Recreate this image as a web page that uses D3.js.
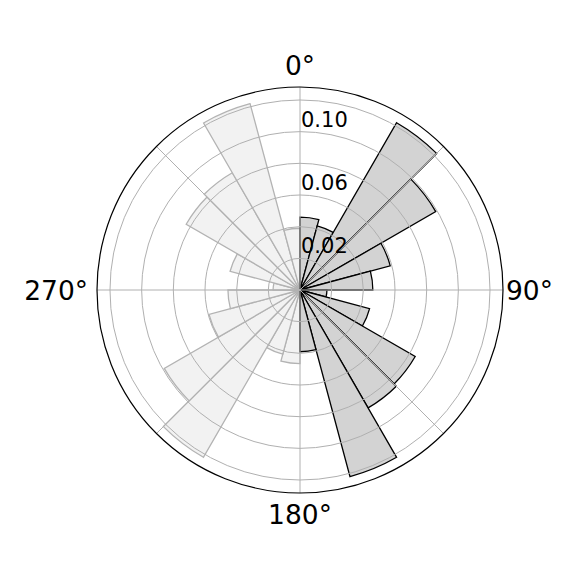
<!DOCTYPE html>
<html>
<head>
<meta charset="utf-8">
<script src="https://cdn.jsdelivr.net/npm/d3@7"></script>
<style>
  body { margin: 0; background: #fff; }
  text { font-family: "DejaVu Sans", sans-serif; }
</style>
</head>
<body>
<script>
'use strict';

// bin start angles (degrees, clockwise from north), 15 degree bins
const eastBins = [0, 15, 30, 45, 60, 75, 90, 105, 120, 135, 150, 165];
const westBins = [180, 195, 210, 225, 240, 255, 270, 285, 300, 315, 330, 345];
// bar heights
const eastValues = [0.046, 0.042, 0.122, 0.099, 0.059, 0.046, 0.017, 0.0455, 0.084, 0.086, 0.122, 0.039];
const westValues = [0.0465, 0.042, 0.122, 0.099, 0.0595, 0.0455, 0.017, 0.0457, 0.083, 0.0855, 0.1218, 0.039];
const binWidth = 15;

// axis ticks
const rGrid = [0.02, 0.04, 0.06, 0.08, 0.10, 0.12];
const rLabels = [0.02, 0.06, 0.10];
const thetaGrid = [0, 45, 90, 135, 180, 225, 270, 315];
const thetaLabels = ["0°", "90°", "180°", "270°"];
const rMax = 0.1282;

const width = 581, height = 581;
const cx = 300, cy = 290, outerR = 203;

let svg = d3.select('body')
  .append('svg')
  .attr('width', width)
  .attr('height', height);

let g = svg.append('g')
  .attr('transform', `translate(${cx},${cy})`);

let rScale = d3.scaleLinear()
  .domain([0, rMax])
  .range([0, outerR]);

let toRad = (deg) => deg * Math.PI / 180;

let arc = d3.arc()
  .innerRadius(0)
  .outerRadius((d) => rScale(d.value))
  .startAngle((d) => toRad(d.start))
  .endAngle((d) => toRad(d.start + binWidth));

let eastData = eastBins.map((s, i) => ({ start: s, value: eastValues[i] }));
let westData = westBins.map((s, i) => ({ start: s, value: westValues[i] }));

// light (mirrored) half
g.selectAll('.west')
  .data(westData)
  .enter()
  .append('path')
  .attr('class', 'west')
  .attr('d', arc)
  .attr('fill', '#f2f2f2')
  .attr('stroke', '#b3b3b3')
  .attr('stroke-width', 1.3)
  .attr('stroke-linejoin', 'miter');

// dark half
g.selectAll('.east')
  .data(eastData)
  .enter()
  .append('path')
  .attr('class', 'east')
  .attr('d', arc)
  .attr('fill', '#d3d3d3')
  .attr('stroke', '#000')
  .attr('stroke-width', 1.3)
  .attr('stroke-linejoin', 'miter');

// grid on top of bars
g.selectAll('.ring')
  .data(rGrid)
  .enter()
  .append('circle')
  .attr('r', (d) => rScale(d))
  .attr('fill', 'none')
  .attr('stroke', '#b0b0b0')
  .attr('stroke-width', 1);

g.selectAll('.spoke')
  .data(thetaGrid)
  .enter()
  .append('line')
  .attr('x1', 0)
  .attr('y1', 0)
  .attr('x2', (d) => outerR * Math.sin(toRad(d)))
  .attr('y2', (d) => -outerR * Math.cos(toRad(d)))
  .attr('stroke', '#b0b0b0')
  .attr('stroke-width', 1);

// outer frame
g.append('circle')
  .attr('r', outerR)
  .attr('fill', 'none')
  .attr('stroke', '#000')
  .attr('stroke-width', 1.2);

// radial labels
g.selectAll('.rlabel')
  .data(rLabels)
  .enter()
  .append('text')
  .attr('x', 1)
  .attr('y', (d) => -rScale(d) - 5)
  .style('font-size', '21px')
  .attr('fill', '#000')
  .text((d) => d.toFixed(2));

// angle labels
let labelPos = [
  { x: 0, y: -215, anchor: 'middle' },
  { x: 206, y: 10, anchor: 'start' },
  { x: 0, y: 234, anchor: 'middle' },
  { x: -212, y: 10, anchor: 'end' }
];
g.selectAll('.tlabel')
  .data(thetaLabels)
  .enter()
  .append('text')
  .attr('x', (d, i) => labelPos[i].x)
  .attr('y', (d, i) => labelPos[i].y)
  .attr('text-anchor', (d, i) => labelPos[i].anchor)
  .style('font-size', '26.5px')
  .attr('fill', '#000')
  .text((d) => d);
</script>
</body>
</html>
